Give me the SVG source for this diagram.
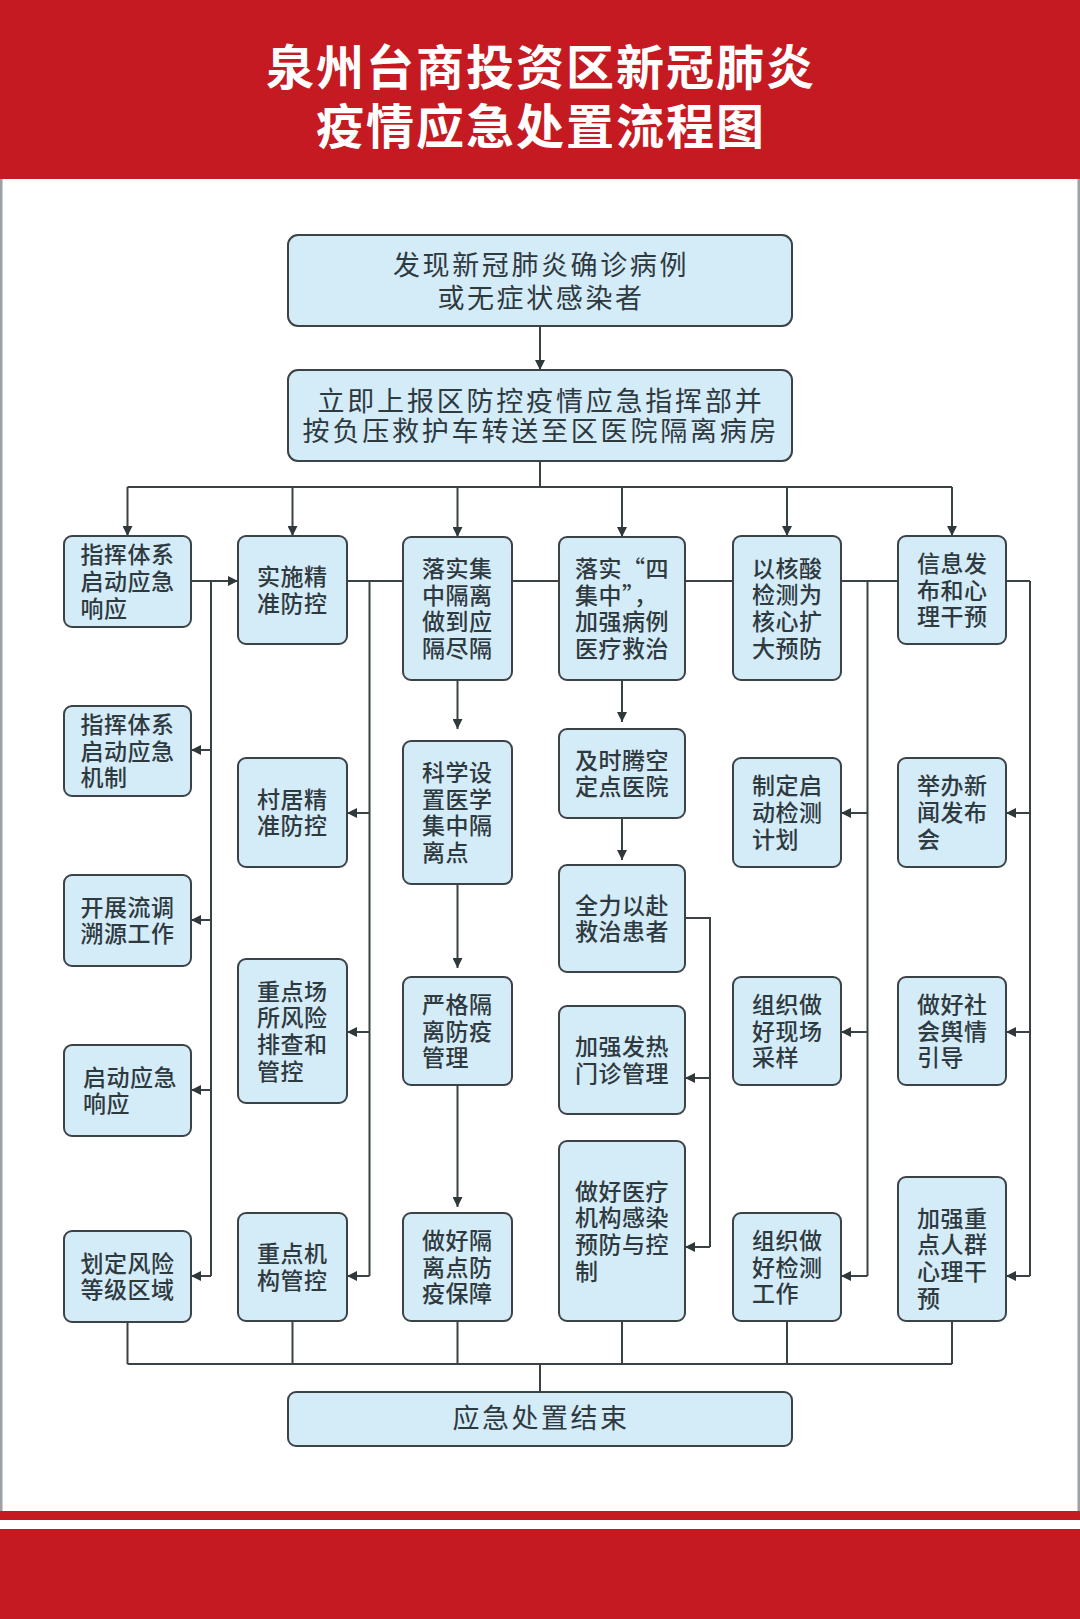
<svg xmlns="http://www.w3.org/2000/svg" width="1080" height="1619" viewBox="0 0 1080 1619">
<style>
.bg{fill:#ffffff}
.red{fill:#c51a21}
.edge{fill:#9ba1a5}
.title{font-family:"Noto Sans CJK SC","Noto Sans",sans-serif;font-weight:700;font-size:48px;letter-spacing:2px;fill:#ffffff;text-anchor:middle}
.box{fill:#d4ebf8;stroke:#3b4347;stroke-width:2}
.big{font-family:"Noto Sans CJK SC","Noto Sans",sans-serif;font-weight:400;font-size:27px;fill:#2f3a3f;text-anchor:middle}
.sm{font-family:"Noto Sans CJK SC","Noto Sans",sans-serif;font-weight:500;font-size:23px;letter-spacing:0.5px;fill:#2f3a3f}
.ln{fill:none;stroke:#3a4245;stroke-width:2}
.ar{fill:none;stroke:#3a4245;stroke-width:2;marker-end:url(#ah)}
</style>
<defs>
<marker id="ah" viewBox="0 0 10 10" refX="10" refY="5" markerWidth="10" markerHeight="10" markerUnits="userSpaceOnUse" orient="auto">
<path d="M0,0 L10,5 L0,10 z" fill="#2f383b"/>
</marker>
</defs>
<rect class="bg" x="0" y="0" width="1080" height="1619"/>
<rect class="red" x="0" y="0" width="1080" height="179"/>
<rect class="edge" x="0" y="179" width="2.5" height="1332"/>
<rect class="edge" x="1077.5" y="179" width="2.5" height="1332"/>
<rect class="red" x="0" y="1511" width="1080" height="9"/>
<rect class="red" x="0" y="1529" width="1080" height="90"/>
<g id="title">
<text class="title" x="541" y="85">泉州台商投资区新冠肺炎</text>
<text class="title" x="541" y="144">疫情应急处置流程图</text>
</g>

<g id="connectors">
<path class="ar" d="M540,326 V370"/>
<path class="ln" d="M540,461 V487 M127.5,487 H952"/>
<path class="ar" d="M127.5,487 V536"/>
<path class="ar" d="M292.5,487 V536"/>
<path class="ar" d="M457.5,487 V537"/>
<path class="ar" d="M622,487 V537"/>
<path class="ar" d="M787,487 V536"/>
<path class="ar" d="M952,487 V536"/>
<!-- row 1 horizontal -->
<path class="ar" d="M191,581 H238"/>
<path class="ln" d="M347,581 H403 M512,581 H559 M685,581 H733 M841,581 H898 M1006,581 H1030"/>
<!-- col1 vertical -->
<path class="ln" d="M211,581 V1276"/>
<path class="ar" d="M211,750 H191"/>
<path class="ar" d="M211,920 H191"/>
<path class="ar" d="M211,1090 H191"/>
<path class="ar" d="M211,1276 H191"/>
<!-- col2 vertical -->
<path class="ln" d="M369.5,581 V1276"/>
<path class="ar" d="M369.5,813 H347"/>
<path class="ar" d="M369.5,1032 H347"/>
<path class="ar" d="M369.5,1276 H347"/>
<!-- col3 chain -->
<path class="ar" d="M457.5,680 V729"/>
<path class="ar" d="M457.5,884 V968"/>
<path class="ar" d="M457.5,1085 V1207"/>
<!-- col4 chain -->
<path class="ar" d="M622,680 V722"/>
<path class="ar" d="M622,818 V860"/>
<path class="ln" d="M685,918 H710 V1247"/>
<path class="ar" d="M710,1078 H685"/>
<path class="ar" d="M710,1247 H685"/>
<!-- col5 vertical -->
<path class="ln" d="M867.5,581 V1276"/>
<path class="ar" d="M867.5,813 H841"/>
<path class="ar" d="M867.5,1032 H841"/>
<path class="ar" d="M867.5,1276 H841"/>
<!-- col6 vertical -->
<path class="ln" d="M1030,581 V1276"/>
<path class="ar" d="M1030,813 H1006"/>
<path class="ar" d="M1030,1032 H1006"/>
<path class="ar" d="M1030,1276 H1006"/>
<!-- bottom bus -->
<path class="ln" d="M127.5,1322 V1364 M292.5,1321 V1364 M457.5,1321 V1364 M622,1321 V1364 M787,1321 V1364 M952,1321 V1364 M127.5,1364 H952 M540,1364 V1392"/>
</g>

<g id="n-start">
<rect class="box" x="288" y="235" width="504" height="91" rx="10"/>
<text class="big" x="541" y="275" letter-spacing="2.6">发现新冠肺炎确诊病例</text>
<text class="big" x="541" y="308" letter-spacing="2.6">或无症状感染者</text>
</g>
<g id="n-report">
<rect class="box" x="288" y="370" width="504" height="91" rx="10"/>
<text class="big" x="541" y="411" letter-spacing="2.8">立即上报区防控疫情应急指挥部并</text>
<text class="big" x="541" y="441" letter-spacing="2.8">按负压救护车转送至区医院隔离病房</text>
</g>

<!-- column 1 -->
<g id="c1-1">
<rect class="box" x="64" y="536" width="127" height="91" rx="8"/>
<text class="sm"><tspan x="80.5" y="563.3">指挥体系</tspan><tspan x="80.5" y="590">启动应急</tspan><tspan x="80.5" y="616.7">响应</tspan></text>
</g>
<g id="c1-2">
<rect class="box" x="64" y="706" width="127" height="90" rx="8"/>
<text class="sm"><tspan x="80.5" y="732.8">指挥体系</tspan><tspan x="80.5" y="759.5">启动应急</tspan><tspan x="80.5" y="786.2">机制</tspan></text>
</g>
<g id="c1-3">
<rect class="box" x="64" y="875" width="127" height="91" rx="8"/>
<text class="sm"><tspan x="80.5" y="915.7">开展流调</tspan><tspan x="80.5" y="942.4">溯源工作</tspan></text>
</g>
<g id="c1-4">
<rect class="box" x="64" y="1045" width="127" height="91" rx="8"/>
<text class="sm"><tspan x="83" y="1085.7">启动应急</tspan><tspan x="83" y="1112.4">响应</tspan></text>
</g>
<g id="c1-5">
<rect class="box" x="64" y="1231" width="127" height="91" rx="8"/>
<text class="sm"><tspan x="80.5" y="1271.7">划定风险</tspan><tspan x="80.5" y="1298.4">等级区域</tspan></text>
</g>

<!-- column 2 -->
<g id="c2-1">
<rect class="box" x="238" y="536" width="109" height="108" rx="8"/>
<text class="sm"><tspan x="257" y="585.2">实施精</tspan><tspan x="257" y="611.9">准防控</tspan></text>
</g>
<g id="c2-2">
<rect class="box" x="238" y="758" width="109" height="109" rx="8"/>
<text class="sm"><tspan x="257" y="807.7">村居精</tspan><tspan x="257" y="834.4">准防控</tspan></text>
</g>
<g id="c2-3">
<rect class="box" x="238" y="959" width="109" height="144" rx="8"/>
<text class="sm"><tspan x="257" y="999.5">重点场</tspan><tspan x="257" y="1026.2">所风险</tspan><tspan x="257" y="1052.9">排查和</tspan><tspan x="257" y="1079.6">管控</tspan></text>
</g>
<g id="c2-4">
<rect class="box" x="238" y="1213" width="109" height="108" rx="8"/>
<text class="sm"><tspan x="257" y="1262.2">重点机</tspan><tspan x="257" y="1288.9">构管控</tspan></text>
</g>

<!-- column 3 -->
<g id="c3-1">
<rect class="box" x="403" y="537" width="109" height="143" rx="8"/>
<text class="sm"><tspan x="422" y="577">落实集</tspan><tspan x="422" y="603.7">中隔离</tspan><tspan x="422" y="630.4">做到应</tspan><tspan x="422" y="657">隔尽隔</tspan></text>
</g>
<g id="c3-2">
<rect class="box" x="403" y="741" width="109" height="143" rx="8"/>
<text class="sm"><tspan x="422" y="781">科学设</tspan><tspan x="422" y="807.7">置医学</tspan><tspan x="422" y="834.4">集中隔</tspan><tspan x="422" y="861">离点</tspan></text>
</g>
<g id="c3-3">
<rect class="box" x="403" y="977" width="109" height="108" rx="8"/>
<text class="sm"><tspan x="422" y="1012.8">严格隔</tspan><tspan x="422" y="1039.5">离防疫</tspan><tspan x="422" y="1066.2">管理</tspan></text>
</g>
<g id="c3-4">
<rect class="box" x="403" y="1213" width="109" height="108" rx="8"/>
<text class="sm"><tspan x="422" y="1248.8">做好隔</tspan><tspan x="422" y="1275.5">离点防</tspan><tspan x="422" y="1302.2">疫保障</tspan></text>
</g>

<!-- column 4 -->
<g id="c4-1">
<rect class="box" x="559" y="537" width="126" height="143" rx="8"/>
<text class="sm"><tspan x="575" y="577">落实“四</tspan><tspan x="575" y="603.7">集中”，</tspan><tspan x="575" y="630.4">加强病例</tspan><tspan x="575" y="657">医疗救治</tspan></text>
</g>
<g id="c4-2">
<rect class="box" x="559" y="729" width="126" height="89" rx="8"/>
<text class="sm"><tspan x="575" y="768.7">及时腾空</tspan><tspan x="575" y="795.4">定点医院</tspan></text>
</g>
<g id="c4-3">
<rect class="box" x="559" y="865" width="126" height="107" rx="8"/>
<text class="sm"><tspan x="575" y="913.7">全力以赴</tspan><tspan x="575" y="940.4">救治患者</tspan></text>
</g>
<g id="c4-4">
<rect class="box" x="559" y="1006" width="126" height="108" rx="8"/>
<text class="sm"><tspan x="575" y="1055.2">加强发热</tspan><tspan x="575" y="1081.9">门诊管理</tspan></text>
</g>
<g id="c4-5">
<rect class="box" x="559" y="1141" width="126" height="180" rx="8"/>
<text class="sm"><tspan x="575" y="1199.5">做好医疗</tspan><tspan x="575" y="1226.2">机构感染</tspan><tspan x="575" y="1252.9">预防与控</tspan><tspan x="575" y="1279.6">制</tspan></text>
</g>

<!-- column 5 -->
<g id="c5-1">
<rect class="box" x="733" y="536" width="108" height="144" rx="8"/>
<text class="sm"><tspan x="752" y="576.5">以核酸</tspan><tspan x="752" y="603.2">检测为</tspan><tspan x="752" y="629.9">核心扩</tspan><tspan x="752" y="656.6">大预防</tspan></text>
</g>
<g id="c5-2">
<rect class="box" x="733" y="758" width="108" height="109" rx="8"/>
<text class="sm"><tspan x="752" y="794.3">制定启</tspan><tspan x="752" y="821">动检测</tspan><tspan x="752" y="847.7">计划</tspan></text>
</g>
<g id="c5-3">
<rect class="box" x="733" y="977" width="108" height="108" rx="8"/>
<text class="sm"><tspan x="752" y="1012.8">组织做</tspan><tspan x="752" y="1039.5">好现场</tspan><tspan x="752" y="1066.2">采样</tspan></text>
</g>
<g id="c5-4">
<rect class="box" x="733" y="1213" width="108" height="108" rx="8"/>
<text class="sm"><tspan x="752" y="1248.8">组织做</tspan><tspan x="752" y="1275.5">好检测</tspan><tspan x="752" y="1302.2">工作</tspan></text>
</g>

<!-- column 6 -->
<g id="c6-1">
<rect class="box" x="898" y="536" width="108" height="108" rx="8"/>
<text class="sm"><tspan x="917" y="571.8">信息发</tspan><tspan x="917" y="598.5">布和心</tspan><tspan x="917" y="625.2">理干预</tspan></text>
</g>
<g id="c6-2">
<rect class="box" x="898" y="758" width="108" height="109" rx="8"/>
<text class="sm"><tspan x="917" y="794.3">举办新</tspan><tspan x="917" y="821">闻发布</tspan><tspan x="917" y="847.7">会</tspan></text>
</g>
<g id="c6-3">
<rect class="box" x="898" y="977" width="108" height="108" rx="8"/>
<text class="sm"><tspan x="917" y="1012.8">做好社</tspan><tspan x="917" y="1039.5">会舆情</tspan><tspan x="917" y="1066.2">引导</tspan></text>
</g>
<g id="c6-4">
<rect class="box" x="898" y="1177" width="108" height="144" rx="8"/>
<text class="sm"><tspan x="917" y="1226.5">加强重</tspan><tspan x="917" y="1253.2">点人群</tspan><tspan x="917" y="1279.9">心理干</tspan><tspan x="917" y="1306.6">预</tspan></text>
</g>

<g id="n-end">
<rect class="box" x="288" y="1392" width="504" height="54" rx="8"/>
<text class="big" x="541" y="1428" letter-spacing="2.5">应急处置结束</text>
</g>
</svg>
